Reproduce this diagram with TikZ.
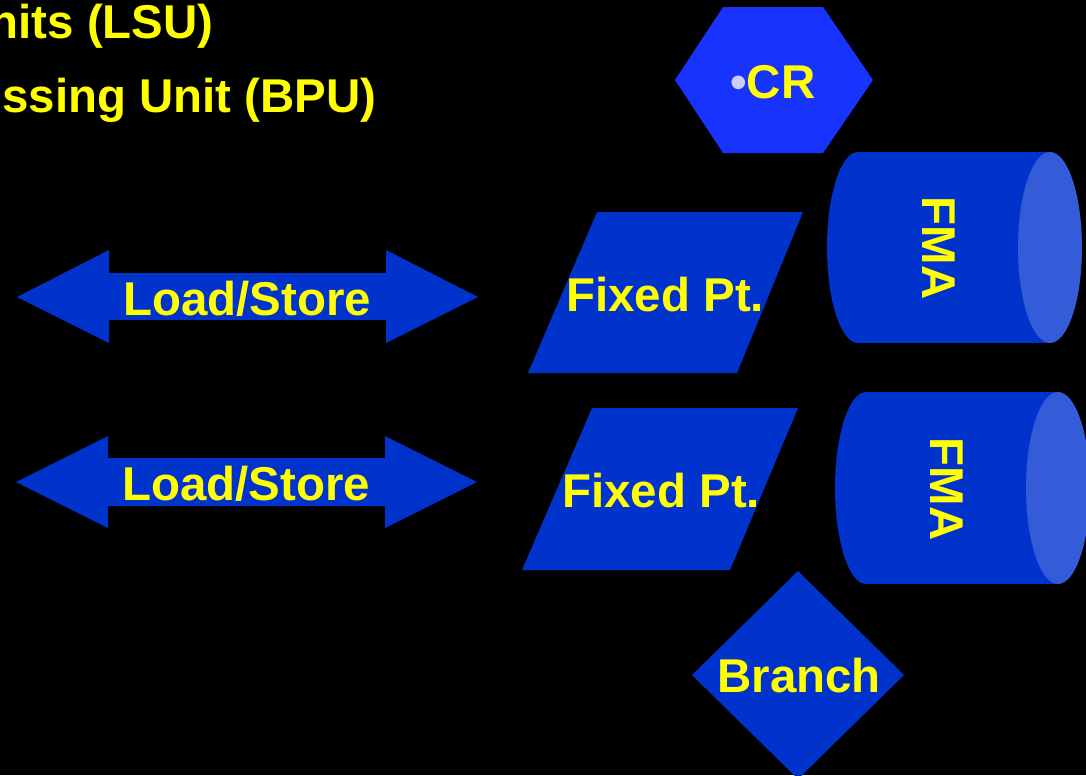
\documentclass[tikz,border=0pt]{standalone}
\usepackage{fontspec}
\setmainfont{Liberation Sans}
\definecolor{unitblue}{HTML}{0033CC}
\definecolor{crblue}{HTML}{1933FF}
\definecolor{capblue}{HTML}{355CD8}
\definecolor{labelyellow}{HTML}{FFFF00}
\definecolor{bulletlav}{HTML}{CCCCFF}
\begin{document}
\begin{tikzpicture}[x=0.02cm,y=-0.02cm,
  unitshape/.style={fill=unitblue},
  lbl/.style={text=labelyellow,inner sep=0pt,font=\fontsize{27}{32}\selectfont\bfseries}]
% background and page extent
\fill[black] (0,0) rectangle (1086,775);
\useasboundingbox (0,0) rectangle (1086,775);

% heading lines
\node[lbl,anchor=base east] (lsuhead) at (214,38) {nits (LSU)};
\node[lbl,anchor=base east] (bpuhead) at (377,112) {ssing Unit (BPU)};

% load/store double arrows
\fill[unitshape] (17,297) -- (109,250) -- (109,273) -- (386,273) -- (386,250) -- (478,297)
  -- (386,343) -- (386,320) -- (109,320) -- (109,343) -- cycle;
\node[lbl,anchor=base west] (ls1) at (123,315) {Load/Store};
\fill[unitshape] (16,482) -- (108,436) -- (108,458) -- (385,458) -- (385,436) -- (477,482)
  -- (385,528) -- (385,506) -- (108,506) -- (108,528) -- cycle;
\node[lbl,anchor=base west] (ls2) at (122,500) {Load/Store};

% fixed point units
\fill[unitshape] (597,212) -- (803,212) -- (737,373) -- (528,373) -- cycle;
\node[lbl,anchor=base west] (fx1) at (566,311) {Fixed Pt.};
\fill[unitshape] (592,408) -- (798,408) -- (730,570) -- (522,570) -- cycle;
\node[lbl,anchor=base west] (fx2) at (562,507) {Fixed Pt.};

% condition register
\fill[crblue] (675,80) -- (723,7) -- (823,7) -- (873,80) -- (823,153) -- (723,153) -- cycle;
\node[lbl,anchor=base west] (cr) at (730,98) {{\color{bulletlav}•}CR};

% floating multiply-add units
\fill[unitshape] (858,152) rectangle (1050,343);
\fill[unitshape] (858,247.5) ellipse [x radius=31, y radius=95.5];
\fill[capblue] (1050,247.5) ellipse [x radius=32, y radius=95.5];
\node[lbl,rotate=-90] (fma1) at (939,248) {FMA};

\fill[unitshape] (866,392) rectangle (1058,584);
\fill[unitshape] (866,488) ellipse [x radius=31, y radius=96];
\fill[capblue] (1058,488) ellipse [x radius=32, y radius=96];
\node[lbl,rotate=-90] (fma2) at (947,489) {FMA};

% branch unit
\fill[unitshape] (692,675) -- (798,571) -- (904,675) -- (798,779) -- cycle;
\node[lbl,anchor=base west] (br) at (717,692) {Branch};
\end{tikzpicture}
\end{document}
